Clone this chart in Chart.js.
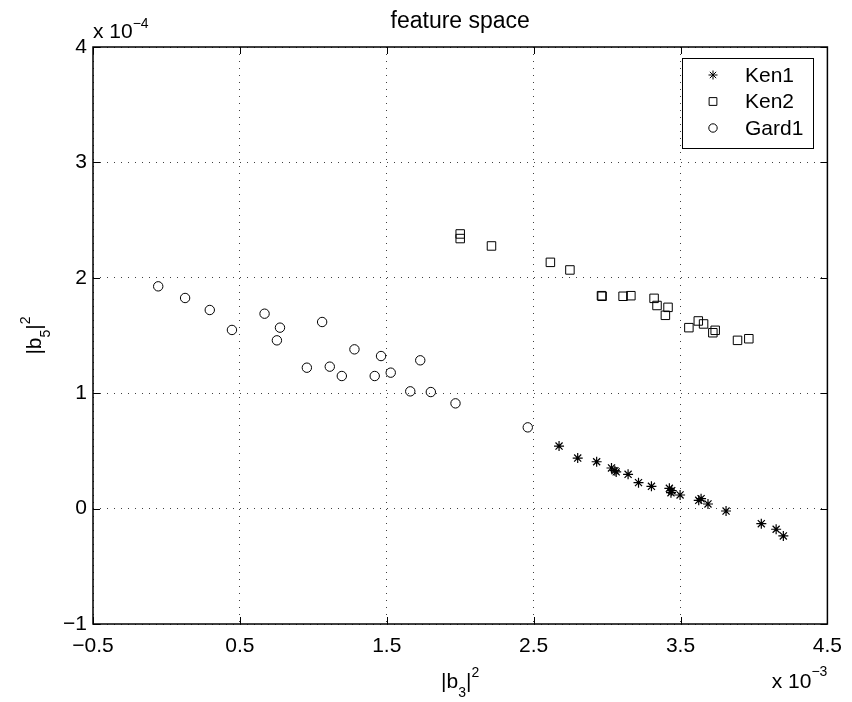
<!DOCTYPE html>
<html>
<head>
<meta charset="utf-8">
<script src="https://cdn.jsdelivr.net/npm/chart.js@4.4.0/dist/chart.umd.min.js"></script>
<style>
    html, body { margin: 0; padding: 0; background: #fff; }
    #wrap { width: 852px; height: 702px; position: relative; }
</style>
</head>
<body>
<div id="wrap"><canvas id="featureChart"></canvas></div>
<script>
// values as shown on the axes (x in 1e-3, y in 1e-4)
var seriesNames = ['Ken1', 'Ken2', 'Gard1'];

var ken1X = [2.673, 2.80, 2.929, 3.03, 3.053, 3.062, 3.143, 3.214, 3.302, 3.424,
             3.44, 3.435, 3.497, 3.624, 3.64, 3.687, 3.81, 4.05, 4.151, 4.2];
var ken1Y = [0.542, 0.438, 0.406, 0.352, 0.329, 0.318, 0.297, 0.225, 0.193, 0.176,
             0.155, 0.138, 0.118, 0.072, 0.086, 0.04, -0.021, -0.131, -0.179, -0.237];

var ken2X = [2.0, 2.0, 2.213, 2.614, 2.747, 2.962, 2.966, 3.109, 3.162, 3.32,
             3.34, 3.415, 3.397, 3.557, 3.621, 3.657, 3.72, 3.736, 3.888, 3.965];
var ken2Y = [2.38, 2.34, 2.276, 2.134, 2.068, 1.845, 1.84, 1.84, 1.845, 1.822,
             1.76, 1.744, 1.675, 1.568, 1.626, 1.60, 1.524, 1.545, 1.458, 1.472];

var gard1X = [-0.056, 0.127, 0.295, 0.446, 0.668, 0.773, 0.752, 1.06, 0.956, 1.112,
              1.194, 1.28, 1.418, 1.461, 1.527, 1.728, 1.66, 1.80, 1.968, 2.46];
var gard1Y = [1.926, 1.825, 1.721, 1.548, 1.689, 1.568, 1.458, 1.617, 1.221, 1.23,
              1.149, 1.38, 1.149, 1.322, 1.178, 1.285, 1.016, 1.01, 0.912, 0.704];

var xTicks = [-0.5, 0.5, 1.5, 2.5, 3.5, 4.5];
var yTicks = [-1, 0, 1, 2, 3, 4];

var FONT = "'Liberation Sans', Arial, Helvetica, sans-serif";

function toPoints(xs, ys) {
    return xs.map(function (x, i) { return { x: x, y: ys[i] }; });
}

function minusSign(v) {
    return String(v).replace('-', '\u2212');
}

// draws a run of text pieces (sub/superscripts) starting at x
function drawParts(ctx, parts, x, y) {
    parts.forEach(function (p) {
        ctx.font = p.size + 'px ' + FONT;
        ctx.fillText(p.t, x, y + p.dy);
        x += ctx.measureText(p.t).width;
    });
}

function partsWidth(ctx, parts) {
    var w = 0;
    parts.forEach(function (p) {
        ctx.font = p.size + 'px ' + FONT;
        w += ctx.measureText(p.t).width;
    });
    return w;
}

var decorations = {
    id: 'decorations',
    afterDatasetsDraw: function (chart) {
        var ctx = chart.ctx;
        var a = chart.chartArea;
        var xs = chart.scales.x, ys = chart.scales.y;
        ctx.save();

        // box and inward ticks
        ctx.strokeStyle = '#000';
        ctx.lineWidth = 1.5;
        ctx.strokeRect(a.left, a.top, a.right - a.left, a.bottom - a.top);
        ctx.lineWidth = 1;
        ctx.beginPath();
        xTicks.forEach(function (v) {
            var px = Math.round(xs.getPixelForValue(v)) + 0.5;
            ctx.moveTo(px, a.bottom); ctx.lineTo(px, a.bottom - 7);
            ctx.moveTo(px, a.top); ctx.lineTo(px, a.top + 7);
        });
        yTicks.forEach(function (v) {
            var py = Math.round(ys.getPixelForValue(v)) + 0.5;
            ctx.moveTo(a.left, py); ctx.lineTo(a.left + 7, py);
            ctx.moveTo(a.right, py); ctx.lineTo(a.right - 7, py);
        });
        ctx.stroke();

        ctx.fillStyle = '#000';
        ctx.textBaseline = 'alphabetic';
        ctx.textAlign = 'left';

        // title
        ctx.font = '23px ' + FONT;
        ctx.textAlign = 'center';
        ctx.fillText('feature space', (a.left + a.right) / 2, 28);
        ctx.textAlign = 'left';

        // exponent labels
        drawParts(ctx, [{ t: 'x 10', size: 21, dy: 0 }, { t: '\u22124', size: 14, dy: -10 }], a.left, 38);
        var expX = [{ t: 'x 10', size: 21, dy: 0 }, { t: '\u22123', size: 14, dy: -12 }];
        drawParts(ctx, expX, a.right - partsWidth(ctx, expX), 688);

        // axis titles
        var xl = [{ t: '|b', size: 21, dy: 0 }, { t: '3', size: 14, dy: 9 },
                  { t: '|', size: 21, dy: 0 }, { t: '2', size: 14, dy: -11 }];
        drawParts(ctx, xl, (a.left + a.right) / 2 - partsWidth(ctx, xl) / 2, 688);

        var yl = [{ t: '|b', size: 21, dy: 0 }, { t: '5', size: 14, dy: 9 },
                  { t: '|', size: 21, dy: 0 }, { t: '2', size: 14, dy: -11 }];
        ctx.save();
        ctx.translate(41, (a.top + a.bottom) / 2);
        ctx.rotate(-Math.PI / 2);
        drawParts(ctx, yl, -partsWidth(ctx, yl) / 2, 0);
        ctx.restore();

        // legend box
        var lx = 682, ly = 58, lw = 131, lh = 90;
        ctx.fillStyle = '#fff';
        ctx.fillRect(lx, ly, lw, lh);
        ctx.strokeStyle = '#000';
        ctx.lineWidth = 1;
        ctx.strokeRect(lx + 0.5, ly + 0.5, lw, lh);
        chart.data.datasets.forEach(function (ds, i) {
            var cy = ly + 17 + i * 26.5;
            ctx.fillStyle = 'rgba(0,0,0,0)';
            ctx.strokeStyle = '#000';
            ctx.lineWidth = 1;
            Chart.helpers.drawPoint(ctx, {
                pointStyle: ds.pointStyle,
                radius: ds.pointRadius - 0.5,
                rotation: 0,
                borderWidth: 1
            }, lx + 31, cy);
            ctx.fillStyle = '#000';
            ctx.font = '21px ' + FONT;
            ctx.textBaseline = 'middle';
            ctx.fillText(ds.label, lx + 63, cy + 1);
            ctx.textBaseline = 'alphabetic';
        });

        ctx.restore();
    }
};

function axisOptions(ticks, min, max, pad) {
    return {
        type: 'linear',
        min: min,
        max: max,
        afterBuildTicks: function (scale) {
            scale.ticks = ticks.map(function (v) { return { value: v }; });
        },
        grid: {
            color: 'rgba(0,0,0,0.75)',
            lineWidth: 1,
            drawTicks: false
        },
        border: { display: false, dash: [1, 6] },
        ticks: {
            color: '#000',
            padding: pad,
            font: { family: FONT, size: 21 },
            callback: function (v) { return minusSign(v); }
        }
    };
}

var xAxis = axisOptions(xTicks, -0.5, 4.5, 10);
xAxis.afterFit = function (scale) { scale.height = 78; };
var yAxis = axisOptions(yTicks, -1, 4, 6);
yAxis.afterFit = function (scale) { scale.width = 93; };

var ctx = document.getElementById('featureChart').getContext('2d');
var featureChart = new Chart(ctx, {
    type: 'scatter',
    data: {
        datasets: [{
            label: seriesNames[0],
            data: toPoints(ken1X, ken1Y),
            pointStyle: 'star',
            pointRadius: 5,
            borderColor: '#000',
            backgroundColor: 'rgba(0,0,0,0)',
            borderWidth: 1.2
        }, {
            label: seriesNames[1],
            data: toPoints(ken2X, ken2Y),
            pointStyle: 'rect',
            pointRadius: 6,
            borderColor: '#000',
            backgroundColor: 'rgba(0,0,0,0)',
            borderWidth: 1
        }, {
            label: seriesNames[2],
            data: toPoints(gard1X, gard1Y),
            pointStyle: 'circle',
            pointRadius: 4.7,
            borderColor: '#000',
            backgroundColor: 'rgba(0,0,0,0)',
            borderWidth: 1
        }]
    },
    options: {
        responsive: true,
        maintainAspectRatio: false,
        animation: false,
        layout: { padding: { left: 0, top: 47, right: 23, bottom: 0 } },
        plugins: {
            legend: { display: false },
            title: { display: false },
            tooltip: { enabled: false }
        },
        scales: { x: xAxis, y: yAxis }
    },
    plugins: [decorations]
});
</script>
</body>
</html>
